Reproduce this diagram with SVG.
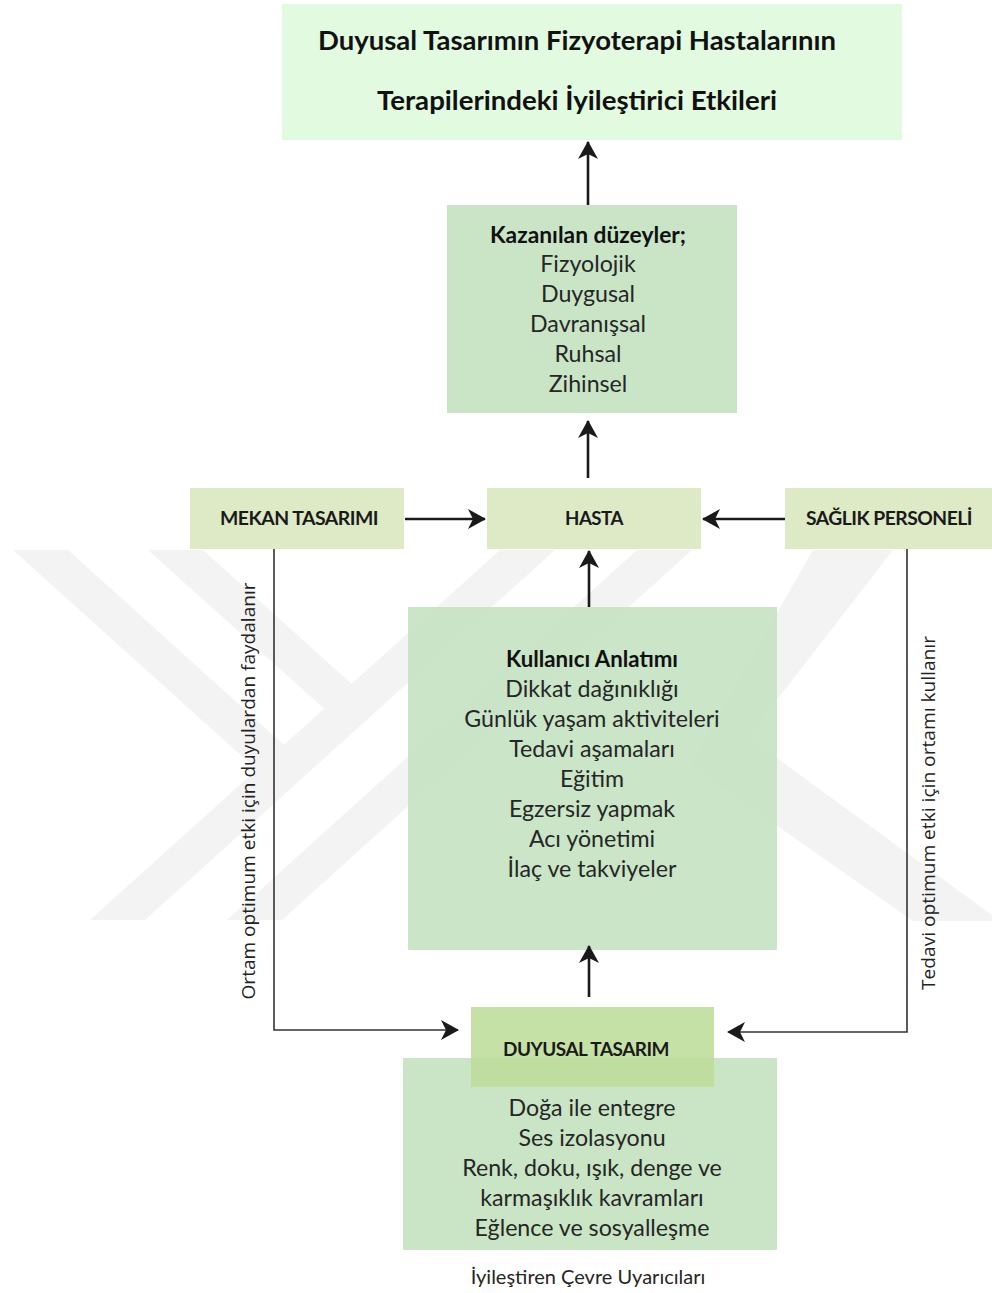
<svg xmlns="http://www.w3.org/2000/svg" width="992" height="1293" viewBox="0 0 992 1293">
<style>
.wm{fill:#f3f3f3;stroke:none}
.t{font-family:Lato,"Open Sans",sans-serif;fill:#262626;text-anchor:middle}
.b{font-weight:bold;fill:#111}
.body{font-size:23.2px}
.lab{font-family:Lato,"Open Sans",sans-serif;font-weight:bold;font-size:19px;fill:#1a1a1a;text-anchor:middle;letter-spacing:-0.5px}
.vt{font-family:"Open Sans","Noto Sans",sans-serif;font-size:18px;fill:#222;text-anchor:middle}
.ar{fill:none;stroke:#1a1a1a;stroke-width:2.6}
.cn{fill:none;stroke:#333;stroke-width:1.6}
</style>
<defs>
<marker id="ah" viewBox="0 0 18 20" refX="17" refY="10" markerWidth="18" markerHeight="20" markerUnits="userSpaceOnUse" orient="auto">
<path d="M0,0 L18,10 L0,20 L5,10 z" fill="#1a1a1a"/>
</marker>
</defs>
<rect width="992" height="1293" fill="#ffffff"/>
<g id="watermark">
<polygon class="wm" points="90,920 145,920 555,550 500,550"/>
<polygon class="wm" points="227,920 282,920 692,550 637,550"/>
<polygon class="wm" points="13,550 68,550 297.6,757.3 270.5,782"/>
<polygon class="wm" points="148,550 203,550 365.6,696.5 338,721.3"/>
<polygon class="wm" points="813,550 893,550 748,737 992,915 992,921 913,921 690,765"/>
</g>
<g id="title">
<rect x="282" y="4" width="620" height="136" fill="#e2fbe0"/>
<text class="t b" x="577" y="50" font-size="26" textLength="518" lengthAdjust="spacingAndGlyphs">Duyusal Tasarımın Fizyoterapi Hastalarının</text>
<text class="t b" x="577" y="110" font-size="26" textLength="400" lengthAdjust="spacingAndGlyphs">Terapilerindeki İyileştirici Etkileri</text>
</g>
<g id="kazanilan">
<rect x="447" y="205" width="290" height="208" fill="#c9e5c6"/>
<text class="t b" x="588" y="243" font-size="22" textLength="196" lengthAdjust="spacingAndGlyphs">Kazanılan düzeyler;</text>
<text class="t body" x="588" y="272">Fizyolojik</text>
<text class="t body" x="588" y="302">Duygusal</text>
<text class="t body" x="588" y="332">Davranışsal</text>
<text class="t body" x="588" y="362">Ruhsal</text>
<text class="t body" x="588" y="392">Zihinsel</text>
</g>
<g id="mekan">
<rect x="190" y="488" width="214" height="61" fill="#dee9c6"/>
<text class="lab" x="299" y="525" textLength="158" lengthAdjust="spacingAndGlyphs">MEKAN TASARIMI</text>
</g>
<g id="hasta">
<rect x="487" y="488" width="214" height="61" fill="#dee9c6"/>
<text class="lab" x="594" y="525" textLength="58" lengthAdjust="spacingAndGlyphs">HASTA</text>
</g>
<g id="saglik">
<rect x="785" y="488" width="207" height="61" fill="#dee9c6"/>
<text class="lab" x="889" y="525" textLength="166" lengthAdjust="spacingAndGlyphs">SAĞLIK PERSONELİ</text>
</g>
<g id="kullanici">
<rect x="408" y="607" width="369" height="343" fill="#c6e3c2" fill-opacity="0.92"/>
<text class="t b" x="592" y="667" font-size="22" textLength="172" lengthAdjust="spacingAndGlyphs">Kullanıcı Anlatımı</text>
<text class="t body" x="592" y="697">Dikkat dağınıklığı</text>
<text class="t body" x="592" y="727">Günlük yaşam aktiviteleri</text>
<text class="t body" x="592" y="757">Tedavi aşamaları</text>
<text class="t body" x="592" y="787">Eğitim</text>
<text class="t body" x="592" y="817">Egzersiz yapmak</text>
<text class="t body" x="592" y="847">Acı yönetimi</text>
<text class="t body" x="592" y="877">İlaç ve takviyeler</text>
</g>
<g id="cevre">
<rect x="403" y="1058" width="374" height="192" fill="#c9e5c5"/>
<text class="t body" x="592" y="1116">Doğa ile entegre</text>
<text class="t body" x="592" y="1146">Ses izolasyonu</text>
<text class="t body" x="592" y="1176">Renk, doku, ışık, denge ve</text>
<text class="t body" x="592" y="1206">karmaşıklık kavramları</text>
<text class="t body" x="592" y="1236">Eğlence ve sosyalleşme</text>
</g>
<g id="duyusal">
<rect x="471" y="1007" width="243" height="80" fill="#bcdc96" fill-opacity="0.85"/>
<text class="lab" x="586" y="1056" textLength="166" lengthAdjust="spacingAndGlyphs">DUYUSAL TASARIM</text>
</g>
<g id="caption">
<text class="t" x="588" y="1284" font-size="20">İyileştiren Çevre Uyarıcıları</text>
</g>
<g id="connectors">
<line class="ar" x1="588" y1="205" x2="588" y2="142" marker-end="url(#ah)"/>
<line class="ar" x1="588" y1="478" x2="588" y2="421" marker-end="url(#ah)"/>
<line class="ar" x1="589" y1="607" x2="589" y2="551" marker-end="url(#ah)"/>
<line class="ar" x1="589" y1="997" x2="589" y2="946" marker-end="url(#ah)"/>
<line class="ar" x1="405" y1="519" x2="485" y2="519" marker-end="url(#ah)"/>
<line class="ar" x1="785" y1="519" x2="703" y2="519" marker-end="url(#ah)"/>
<polyline class="cn" points="274,549 274,1030 458,1030" marker-end="url(#ah)"/>
<polyline class="cn" points="907,549 907,1032 728,1032" marker-end="url(#ah)"/>
<text class="vt" transform="translate(255,791) rotate(-90)" textLength="417" lengthAdjust="spacingAndGlyphs">Ortam optimum etki için duyulardan faydalanır</text>
<text class="vt" transform="translate(935,813) rotate(-90)" textLength="354" lengthAdjust="spacingAndGlyphs">Tedavi optimum etki için ortamı kullanır</text>
</g>
</svg>
